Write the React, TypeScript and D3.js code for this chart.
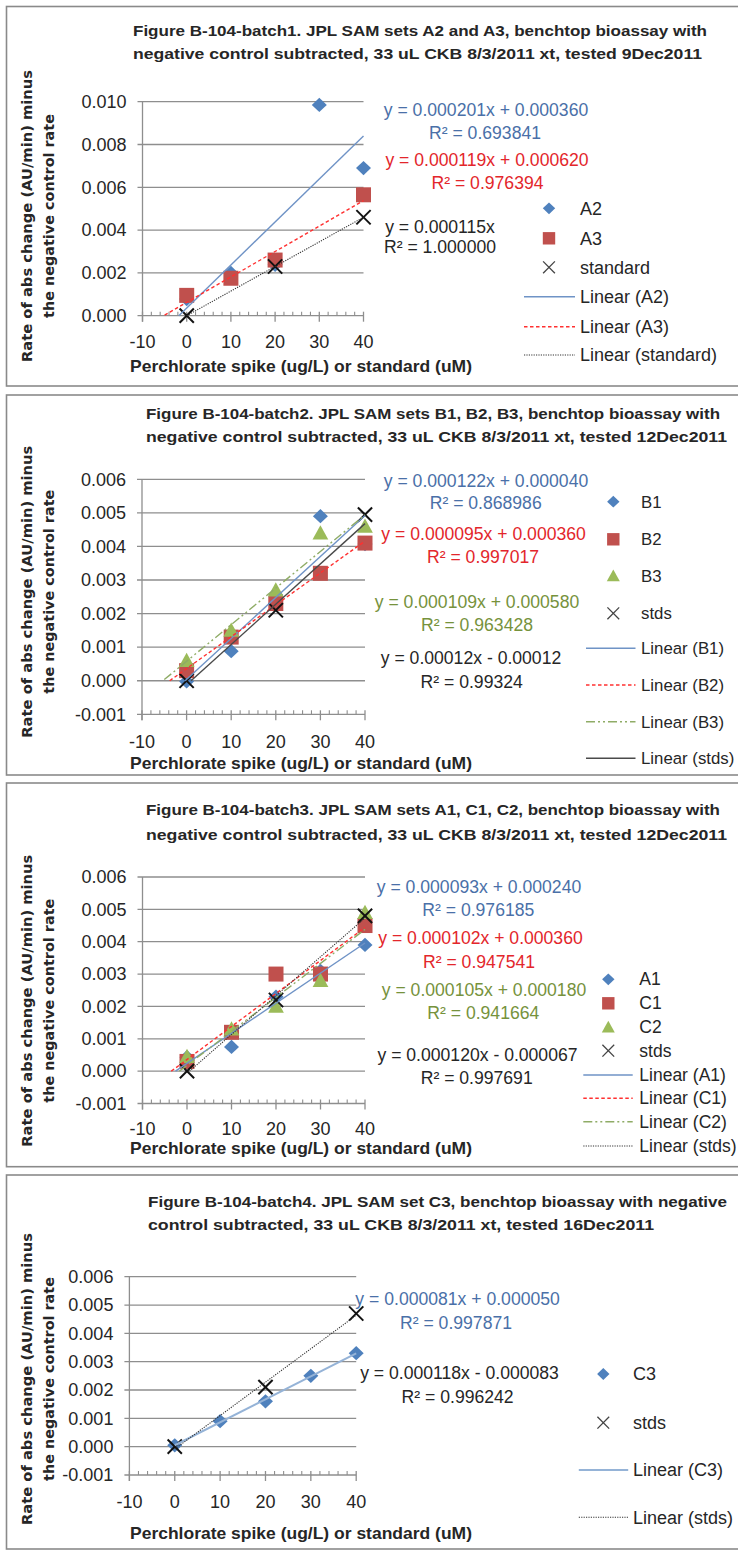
import React from 'react';
import * as d3 from 'd3';

// ---------------- data ----------------
const xSpike = [0, 10, 20, 30, 40];
const xStd = [0, 20, 40];
const xA3 = [0, 10, 20, 40];
const xTicks = [-10, 0, 10, 20, 30, 40];
const yTicks1 = [0, 0.002, 0.004, 0.006, 0.008, 0.01];
const yTicks2 = [-0.001, 0, 0.001, 0.002, 0.003, 0.004, 0.005, 0.006];

// batch 1
const a2 = [0.00078, 0.002, 0.00238, 0.00985, 0.0069];
const a3 = [0.00095, 0.00175, 0.0026, 0.00565];
const std1 = [0, 0.0023, 0.0046];
// batch 2
const b1 = [-0.00002, 0.00088, 0.00255, 0.0049, 0.00407];
const b2 = [0.0003, 0.0013, 0.0023, 0.0032, 0.0041];
const b3 = [0.0006, 0.0015, 0.0027, 0.0044, 0.0046];
const std2 = [0, 0.0021, 0.00495];
// batch 3
const a1 = [0.00043, 0.00075, 0.0023, 0.0031, 0.0039];
const c1 = [0.0003, 0.0012, 0.003, 0.003, 0.0045];
const c2 = [0.00045, 0.0013, 0.002, 0.0028, 0.0049];
const std3 = [0, 0.0022, 0.0048];
// batch 4
const c3 = [0.00005, 0.0009, 0.0016, 0.0025, 0.0033];
const std4 = [0, 0.0021, 0.0047];

// trendline coefficients [slope, intercept] as printed
const trend1 = [[0.000201, 0.00036], [0.000119, 0.00062], [0.000115, 0]];
const trend2 = [[0.000122, 0.00004], [0.000095, 0.00036], [0.000109, 0.00058], [0.00012, -0.00012]];
const trend3 = [[0.000093, 0.00024], [0.000102, 0.00036], [0.000105, 0.00018], [0.00012, -0.000067]];
const trend4 = [[0.000081, 0.00005], [0.000118, -0.000083]];

const eq1 = [["y = 0.000201x + 0.000360", "R² = 0.693841"], ["y = 0.000119x + 0.000620", "R² = 0.976394"], ["y = 0.000115x", "R² = 1.000000"]];
const eq2 = [["y = 0.000122x + 0.000040", "R² = 0.868986"], ["y = 0.000095x + 0.000360", "R² = 0.997017"], ["y = 0.000109x + 0.000580", "R² = 0.963428"], ["y = 0.00012x - 0.00012", "R² = 0.99324"]];
const eq3 = [["y = 0.000093x + 0.000240", "R² = 0.976185"], ["y = 0.000102x + 0.000360", "R² = 0.947541"], ["y = 0.000105x + 0.000180", "R² = 0.941664"], ["y = 0.000120x - 0.000067", "R² = 0.997691"]];
const eq4 = [["y = 0.000081x + 0.000050", "R² = 0.997871"], ["y = 0.000118x - 0.000083", "R² = 0.996242"]];

const names1 = ["A2", "A3", "standard"];
const names2 = ["B1", "B2", "B3", "stds"];
const names3 = ["A1", "C1", "C2", "stds"];
const names4 = ["C3", "stds"];

const titles = [
  ["Figure B-104-batch1. JPL SAM sets A2 and A3, benchtop bioassay  with", "negative control subtracted, 33 uL CKB 8/3/2011 xt, tested 9Dec2011"],
  ["Figure B-104-batch2. JPL SAM sets B1, B2, B3, benchtop bioassay with", "negative control subtracted, 33 uL CKB 8/3/2011 xt, tested 12Dec2011"],
  ["Figure B-104-batch3. JPL SAM sets A1, C1, C2, benchtop bioassay  with", "negative control subtracted, 33 uL CKB 8/3/2011 xt, tested 12Dec2011"],
  ["Figure B-104-batch4. JPL SAM set C3, benchtop bioassay with negative", "control subtracted, 33 uL CKB 8/3/2011 xt, tested 16Dec2011"],
];
const yTitle = ["Rate of abs change (AU/min) minus", "the negative control rate"];
const xTitle = "Perchlorate spike (ug/L) or standard  (uM)";

// ---------------- styles ----------------
const FONT = "'Liberation Sans', Arial, sans-serif";
const FONT_Y = "'DejaVu Sans', Verdana, sans-serif";
const GRID = '#8e8e8e';
const TXT = '#262626';

const MK = {
  diamond: '#4F81BD',
  square: '#C0504D',
  triangle: '#9BBB59',
  x: '#111111',
};
const LINE = {
  blue: { stroke: '#6f93c6', width: 1.4, dash: null },
  blueLight: { stroke: '#95b3d7', width: 2, dash: null },
  red: { stroke: '#ff3030', width: 1.4, dash: '3.5,2.5' },
  green: { stroke: '#8fac66', width: 1.4, dash: '9,3,2,3,2,3' },
  blackDot: { stroke: '#333333', width: 1.1, dash: '1.2,1.2' },
  blackSolid: { stroke: '#4a4a4a', width: 1.4, dash: null },
};
const EQC = { blue: '#4a70a8', red: '#e3262b', green: '#76923c', black: '#262626' };

function buildSeries(xsList, ysList, markers, trends, eqs, names, lines, eqColors) {
  return ysList.map((ys, i) => ({
    xs: xsList[i], ys, marker: markers[i], trend: trends[i], eq: eqs[i], name: names[i],
    line: lines[i], eqColor: eqColors[i],
  }));
}

const panels = [
  {
    series: buildSeries([xSpike, xA3, xStd], [a2, a3, std1], ['diamond', 'square', 'x'], trend1, eq1, names1,
      ['blue', 'red', 'blackDot'], ['blue', 'red', 'black']),
    yTicks: yTicks1, yDom: [0, 0.01], title: titles[0],
    L: {
      box: [6.5, 386], plot: { l: 142.5, r: 363.5, t: 101.7, b: 315.7 }, forecast: true,
      title: { x: 133, y: [30.7, 53.3], w: [574, 569] }, xLabY: 341.7, xTitleY: 366.5, yTitleCY: 216,
      eqPos: [[[486, 110], [485, 133.3]], [[487, 160], [487.5, 183]], [[440, 226.7], [440, 246.7]]],
      legend: { mx: 549, tx: 580, lx: [524, 575], fs: 18, rows: [208.3, 238.3, 267.3, 296.7, 326.7, 355] },
    },
  },
  {
    series: buildSeries([xSpike, xSpike, xSpike, xStd], [b1, b2, b3, std2], ['diamond', 'square', 'triangle', 'x'], trend2, eq2, names2,
      ['blue', 'red', 'green', 'blackSolid'], ['blue', 'red', 'green', 'black']),
    yTicks: yTicks2, yDom: [-0.001, 0.006], title: titles[1],
    L: {
      box: [395, 775], plot: { l: 142, r: 365, t: 479.3, b: 714.3 }, forecast: true,
      title: { x: 146, y: [413.3, 436.7], w: [574, 581] }, xLabY: 741.7, xTitleY: 763.3, yTitleCY: 591.7,
      eqPos: [[[486, 480.7], [485.7, 503.3]], [[483.6, 534], [483, 556.7]], [[477, 601.7], [477, 625]], [[471, 658.3], [471.7, 681.7]]],
      legend: { mx: 613.3, tx: 641, lx: [586, 635.5], fs: 16.8, rows: [501.7, 539.3, 576, 613.3, 648.3, 685, 721.7, 758.3] },
    },
  },
  {
    series: buildSeries([xSpike, xSpike, xSpike, xStd], [a1, c1, c2, std3], ['diamond', 'square', 'triangle', 'x'], trend3, eq3, names3,
      ['blue', 'red', 'green', 'blackDot'], ['blue', 'red', 'green', 'black']),
    yTicks: yTicks2, yDom: [-0.001, 0.006], title: titles[2],
    L: {
      box: [783, 1166.7], plot: { l: 142.5, r: 365, t: 877, b: 1103.5 }, forecast: true,
      title: { x: 146, y: [810, 834.3], w: [574, 581] }, xLabY: 1128.3, xTitleY: 1148.3, yTitleCY: 1000.7,
      eqPos: [[[479, 886.7], [478.3, 910]], [[480.5, 938.3], [479, 961.7]], [[484, 990], [483.3, 1013.3]], [[477.5, 1055], [476.7, 1078.3]]],
      legend: { mx: 608.3, tx: 639.3, lx: [583.3, 632.7], fs: 17.5, rows: [979.3, 1003.3, 1027.3, 1050.7, 1075, 1098.3, 1121.7, 1146] },
    },
  },
  {
    series: buildSeries([xSpike, xStd], [c3, std4], ['diamond', 'x'], trend4, eq4, names4,
      ['blueLight', 'blackDot'], ['blue', 'black']),
    yTicks: yTicks2, yDom: [-0.001, 0.006], title: titles[3],
    L: {
      box: [1175, 1549], plot: { l: 129.4, r: 356.2, t: 1276.7, b: 1475 }, forecast: false,
      title: { x: 148, y: [1201.7, 1225], w: [579, 506] }, xLabY: 1501.7, xTitleY: 1533.3, yTitleCY: 1379,
      eqPos: [[[457.6, 1299.3], [456, 1323.3]], [[459.5, 1373.3], [457.6, 1396.7]]],
      legend: { mx: 603.3, tx: 633, lx: [578.8, 628.2], fs: 18, rows: [1374, 1422.7, 1470, 1517.3] },
    },
  },
];

function Marker({ type, cx, cy, s, legend }) {
  if (type === 'diamond') {
    const h = s, v = s * 0.95;
    return <polygon points={`${cx},${cy - v} ${cx + h},${cy} ${cx},${cy + v} ${cx - h},${cy}`} fill={MK.diamond} />;
  }
  if (type === 'square') {
    return <rect x={cx - s} y={cy - s} width={2 * s} height={2 * s} fill={MK.square} />;
  }
  if (type === 'triangle') {
    return <polygon points={`${cx},${cy - s * 1.05} ${cx + s * 1.05},${cy + s * 0.85} ${cx - s * 1.05},${cy + s * 0.85}`} fill={MK.triangle} />;
  }
  const d = s * 0.95;
  const col = legend ? '#444' : MK.x;
  const w = legend ? 1.3 : 2;
  return (
    <g stroke={col} strokeWidth={w}>
      <line x1={cx - d} y1={cy - d} x2={cx + d} y2={cy + d} />
      <line x1={cx - d} y1={cy + d} x2={cx + d} y2={cy - d} />
    </g>
  );
}

function Panel({ p }) {
  const { L, series, yTicks, yDom, title } = p;
  const x = d3.scaleLinear().domain([-10, 40]).range([L.plot.l, L.plot.r]);
  const y = d3.scaleLinear().domain(yDom).range([L.plot.b, L.plot.t]);
  const yMin = yDom[0];
  const yb = y(yMin);
  const xl = x(-10), xr = x(40);
  const minor = d3.range(-10, 41, 2).filter((v) => v % 10 !== 0);
  const line = d3.line<[number, number]>().x((d) => x(d[0])).y((d) => y(d[1]));

  const trendPts = (m: number, b: number) => {
    const x0 = L.forecast ? Math.max(-5, -b / m) : 0;
    return [[x0, m * x0 + b], [40, m * 40 + b]] as [number, number][];
  };

  const legendRows = L.legend.rows;
  const n = series.length;

  return (
    <g>
      <rect x={6.5} y={L.box[0]} width={740} height={L.box[1] - L.box[0]} fill="#fff" stroke="#8a8a8a" strokeWidth={1.6} />
      {title.map((t, i) => (
        <text key={i} x={L.title.x} y={L.title.y[i]} dy="0.35em" fontFamily={FONT} fontWeight="bold" fontSize={15.5}
          fill={TXT} textLength={L.title.w[i]} lengthAdjust="spacingAndGlyphs">{t}</text>
      ))}
      {yTicks.filter((v) => v > yMin + 1e-9).map((v) => (
        <line key={v} x1={xl - 5} x2={xr} y1={y(v)} y2={y(v)} stroke={GRID} strokeWidth={1.3} />
      ))}
      <line x1={xl} x2={xl} y1={y(yDom[1])} y2={yb + 6} stroke={GRID} strokeWidth={1.3} />
      <line x1={xl - 5} x2={xr} y1={yb} y2={yb} stroke={GRID} strokeWidth={1.3} />
      {xTicks.map((v) => (
        <line key={v} x1={x(v)} x2={x(v)} y1={yb - 4} y2={yb + 6} stroke={GRID} strokeWidth={1.3} />
      ))}
      {minor.map((v) => (
        <line key={v} x1={x(v)} x2={x(v)} y1={yb - 4} y2={yb} stroke={GRID} strokeWidth={1.1} />
      ))}
      {yTicks.map((v) => (
        <text key={v} x={xl - 16} y={y(v)} dy="0.35em" textAnchor="end" fontFamily={FONT} fontSize={18} fill={TXT}>
          {v.toFixed(3).replace('-0.000', '0.000')}
        </text>
      ))}
      {xTicks.map((v) => (
        <text key={v} x={x(v)} y={L.xLabY} dy="0.35em" textAnchor="middle" fontFamily={FONT} fontSize={18} fill={TXT}>
          {String(v)}
        </text>
      ))}
      <text x={130} y={L.xTitleY} dy="0.35em" fontFamily={FONT} fontWeight="bold" fontSize={16.5} fill={TXT}
        textLength={342} lengthAdjust="spacingAndGlyphs">{xTitle}</text>
      {yTitle.map((t, i) => (
        <text key={i} transform={`translate(${i === 0 ? 26.8 : 49.4},${L.yTitleCY}) rotate(-90)`} dy="0.35em"
          textAnchor="middle" fontFamily={FONT_Y} fontWeight="bold" fontSize={14.5} fill={TXT}
          textLength={i === 0 ? 292 : 204} lengthAdjust="spacingAndGlyphs">{t}</text>
      ))}
      {series.map((s, si) => (
        <g key={si}>
          {s.ys.map((v, j) => (
            <Marker key={j} type={s.marker} cx={x(s.xs[j])} cy={y(v)} s={7.5} legend={false} />
          ))}
        </g>
      ))}
      {series.map((s, si) => {
        const st = LINE[s.line];
        return (
          <path key={si} d={line(trendPts(s.trend[0], s.trend[1])) || ''} fill="none" stroke={st.stroke}
            strokeWidth={st.width} strokeDasharray={st.dash || undefined} />
        );
      })}
      {series.map((s, si) => (
        <g key={si}>
          {s.eq.map((t, k) => (
            <text key={k} x={L.eqPos[si][k][0]} y={L.eqPos[si][k][1]} dy="0.35em" textAnchor="middle"
              fontFamily={FONT} fontSize={17.6} fill={EQC[s.eqColor]}>{t}</text>
          ))}
        </g>
      ))}
      {series.map((s, si) => (
        <g key={'lm' + si}>
          <Marker type={s.marker} cx={L.legend.mx} cy={legendRows[si]} s={6.2} legend={true} />
          <text x={L.legend.tx} y={legendRows[si]} dy="0.35em" fontFamily={FONT} fontSize={L.legend.fs} fill={TXT}>{s.name}</text>
        </g>
      ))}
      {series.map((s, si) => {
        const st = LINE[s.line];
        const ry = legendRows[n + si];
        return (
          <g key={'ll' + si}>
            <line x1={L.legend.lx[0]} x2={L.legend.lx[1]} y1={ry} y2={ry} stroke={st.stroke} strokeWidth={st.width}
              strokeDasharray={st.dash || undefined} />
            <text x={L.legend.tx} y={ry} dy="0.35em" fontFamily={FONT} fontSize={L.legend.fs} fill={TXT}>{`Linear (${s.name})`}</text>
          </g>
        );
      })}
    </g>
  );
}

export default function App() {
  return (
    <svg width={738} height={1551} viewBox="0 0 738 1551"
      style={{ position: 'absolute', left: 0, top: 0, display: 'block', background: '#fff' }}>
      <rect x={0} y={0} width={738} height={1551} fill="#fff" />
      {panels.map((p, i) => <Panel key={i} p={p} />)}
    </svg>
  );
}
